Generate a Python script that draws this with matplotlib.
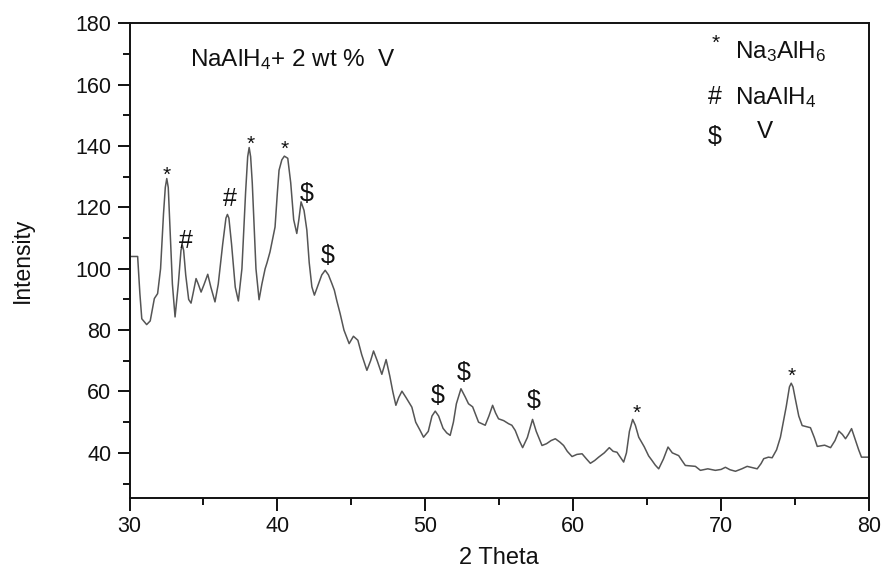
import matplotlib
matplotlib.use("Agg")
import matplotlib.pyplot as plt
from matplotlib.ticker import MultipleLocator

plt.rcParams['font.family'] = ['Liberation Sans', 'DejaVu Sans']
plt.rcParams['mathtext.default'] = 'regular'

two_theta = [30.0, 30.55, 30.7, 30.83, 31.16, 31.4, 31.68, 31.9, 32.1, 32.3, 32.42, 32.52, 32.62, 32.75, 32.9, 33.08,
             33.3, 33.48, 33.57, 33.66, 33.8, 34.0, 34.16, 34.3, 34.5, 34.65, 34.84, 35.05, 35.29, 35.5, 35.78, 36.0,
             36.3, 36.52, 36.62, 36.72, 36.9, 37.15, 37.36, 37.6, 37.85, 37.99, 38.09, 38.19, 38.3, 38.55, 38.76, 38.95, 39.17, 39.3,
             39.5, 39.84, 40.0, 40.11, 40.3, 40.47, 40.7, 40.9, 41.1, 41.31, 41.45, 41.6, 41.8, 41.99,
             42.15, 42.33, 42.5, 42.7, 43.0, 43.23, 43.45, 43.68, 43.85, 44.02, 44.24, 44.5, 44.85, 45.14,
             45.44, 45.7, 46.05, 46.3, 46.5, 46.75, 47.06, 47.35, 47.6, 47.8, 48.01, 48.2, 48.42, 48.7,
             49.09, 49.35, 49.65, 49.88, 50.2, 50.45, 50.67, 50.9, 51.2, 51.45, 51.68, 51.9, 52.1, 52.41,
             52.7, 52.92, 53.2, 53.6, 54.05, 54.3, 54.55, 54.75, 54.95, 55.3, 55.63, 55.85, 56.08, 56.35,
             56.58, 56.9, 57.25, 57.5, 57.89, 58.2, 58.5, 58.79, 59.1, 59.35, 59.6, 59.92, 60.25, 60.6,
             60.9, 61.16, 61.45, 61.72, 62.1, 62.44, 62.7, 62.96, 63.2, 63.41, 63.6, 63.8, 64.02, 64.2,
             64.43, 64.8, 65.1, 65.33, 65.55, 65.78, 66.1, 66.41, 66.7, 67.13, 67.35, 67.58, 68.26, 68.6,
             69.1, 69.61, 70.0, 70.29, 70.6, 70.97, 71.4, 71.76, 72.1, 72.44, 72.7, 72.88, 73.2, 73.45,
             73.75, 74.01, 74.4, 74.62, 74.74, 74.86, 75.0, 75.25, 75.48, 76.04, 76.3, 76.5, 77.0, 77.4, 77.7, 77.96,
             78.2, 78.41, 78.6, 78.82, 79.09, 79.3, 79.49, 80.0]
intensity = [104, 104, 92, 83.7, 81.8, 83, 90.3, 91.9, 100, 118, 126.5, 129.4, 126.5, 112, 95, 84.3,
             95, 106, 107.7, 106, 98, 90, 88.8, 92, 96.8, 95, 92.4, 95, 98.2, 94, 89.2, 95,
             108, 116.5, 117.7, 116.5, 108, 94, 89.5, 100, 125, 136.5, 139.5, 136.5, 128, 100, 89.9, 95, 100, 102,
             105.5, 113.6, 125, 132.1, 135.5, 136.7, 136, 128, 116, 111.5, 116, 121.8, 119, 112.6,
             102, 94.1, 91.4, 94, 98, 99.5, 98, 95.2, 93, 89.5, 85.4, 80, 75.6, 78,
             76.7, 72, 66.9, 70, 73.2, 70, 65.6, 70.4, 65, 60, 55.5, 58, 60.1, 58,
             54.9, 50, 47.3, 45.1, 47, 52, 53.6, 52, 48, 46.5, 45.7, 50, 56, 60.9,
             58.2, 56, 55, 50, 49, 52, 55.5, 53, 51.1, 50.5, 49.5, 49, 47.3, 44,
             41.7, 45, 50.9, 47, 42.4, 43, 44, 44.6, 43.5, 42.4, 40.5, 38.8, 39.5, 39.7,
             38, 36.6, 37.5, 38.6, 40, 41.7, 40.5, 40.2, 38.5, 37, 40, 47, 50.9, 49,
             45.1, 42, 39, 37.5, 36, 34.8, 38, 41.9, 40, 39.1, 37.5, 35.9, 35.6, 34.3,
             34.8, 34.3, 34.6, 35.3, 34.5, 34, 34.8, 35.6, 35.2, 34.8, 36.5, 38.1, 38.6, 38.4,
             41, 45.1, 55, 61.5, 62.7, 61.5, 58, 52, 48.9, 48.2, 45, 42.1, 42.5, 41.7, 44, 47.1,
             46, 44.6, 46, 47.9, 44, 41, 38.6, 38.6]

# peak identification marks (symbol, 2theta, label height)
mark_symbols = ['*', '#', '#', '*', '*', '$', '$', '$', '$', '$', '*', '*']
mark_x = [32.52, 33.82, 36.75, 38.2, 40.47, 41.99, 43.41, 50.85, 52.59, 57.32, 64.27, 74.8]
mark_y = [131.8, 110.1, 123.7, 141.9, 140.0, 125.6, 105.2, 59.8, 67.0, 58.0, 54.0, 66.1]

legend_symbols = ['*', '#', '$']
legend_names = ['Na$_3$AlH$_6$', 'NaAlH$_4$', 'V']
title_text = 'NaAlH$_4$+ 2 wt %  V'

TXT = '#111111'

fig = plt.figure(figsize=(8.81, 5.69), dpi=100)
ax = fig.add_axes([0.147, 0.1243, 0.8394, 0.8348])

ax.plot(two_theta, intensity, color='#555555', lw=1.1)

ax.set_xlim(30, 80)
ax.set_ylim(25.2, 180)
ax.xaxis.set_major_locator(MultipleLocator(10))
ax.xaxis.set_minor_locator(MultipleLocator(5))
ax.yaxis.set_major_locator(MultipleLocator(20))
ax.yaxis.set_minor_locator(MultipleLocator(10))
ax.tick_params(which='both', direction='out', top=False, right=False, width=1.4, colors=TXT)
ax.tick_params(which='major', length=9, labelsize=15.5, pad=4)
ax.tick_params(which='minor', length=5)
for s in ax.spines.values():
    s.set_linewidth(1.4)
    s.set_color(TXT)

ax.set_xlabel('2 Theta', fontsize=17, labelpad=7, color=TXT)
ax.set_ylabel('Intensity', fontsize=16.5, labelpad=30, color=TXT)

# peak marks
for sym, x, y in zip(mark_symbols, mark_x, mark_y):
    if sym == '*':
        ax.text(x, y - 3.0, sym, fontsize=15, ha='center', va='baseline', color=TXT)
    else:
        ax.text(x, y - 3.4, sym, fontsize=18, ha='center', va='baseline', color=TXT)

# annotation text
ax.text(34.09, 166.1, title_text, fontsize=17.5, ha='left', va='baseline', color=TXT)
rows_y = [168.7, 153.7, 140.5]
for i, (sym, name) in enumerate(zip(legend_symbols, legend_names)):
    ax.text(69.6, rows_y[i] + (3.0 if sym == '*' else 0), sym, fontsize=15 if sym == '*' else 18,
            ha='center', va='baseline', color=TXT)
    ax.text(72.4 if name == 'V' else 70.96, rows_y[i] + (2.0 if name == 'V' else 0), name,
            fontsize=17.5, ha='left', va='baseline', color=TXT)

fig.savefig('out.png', dpi=100)
